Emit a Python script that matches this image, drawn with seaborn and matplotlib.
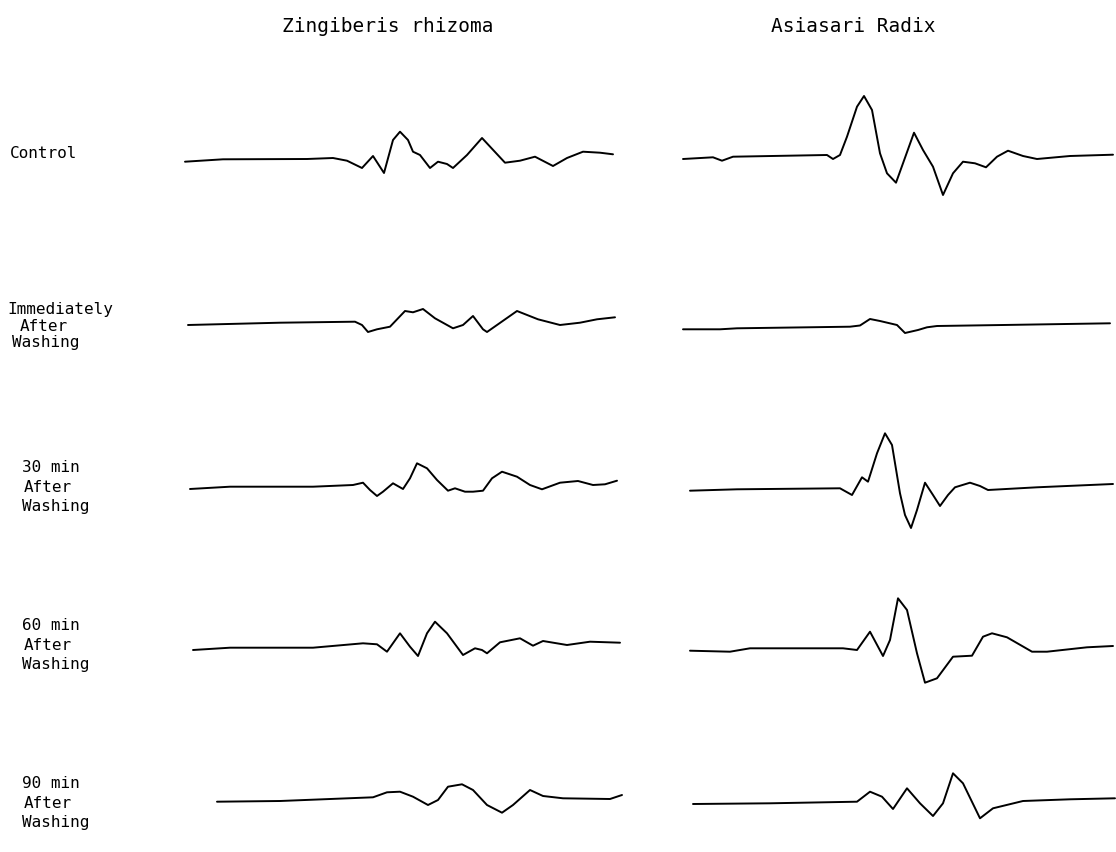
import numpy as np
import pandas as pd
import matplotlib
matplotlib.use("Agg")
import matplotlib.pyplot as plt
import seaborn as sns

sns.set_theme(style="white")
plt.rcParams['font.family'] = ['DejaVu Sans Mono', 'DejaVu Sans']

# ---- data: time (ms) and amplitude (mV, baseline = 0) ----
columns = ["Zingiberis rhizoma", "Asiasari Radix"]
conditions = ["Control", "Immediately After Washing", "30 min After Washing",
              "60 min After Washing", "90 min After Washing"]

z_control_t = [0.5, 4.3, 12.7, 15.3, 16.7, 18.2, 19.3, 20.4, 21.3, 22.0, 22.8, 23.3, 24.0, 25.0,
               25.8, 26.7, 27.3, 28.7, 30.2, 32.5, 34.0, 35.5, 37.3, 38.7, 40.3, 42.0, 43.3]
z_control_a = [-0.37, -0.13, -0.1, 0, -0.27, -1.0, 0.2, -1.5, 1.8, 2.63, 1.8, 0.63, 0.3, -1.0,
               -0.37, -0.6, -1.0, 0.3, 2.0, -0.47, -0.27, 0.13, -0.8, 0, 0.63, 0.53, 0.37]

a_control_t = [0.8, 3.8, 4.7, 5.8, 15.2, 15.8, 16.5, 17.2, 18.2, 18.9, 19.7, 20.5, 21.2, 22.1, 22.8,
               23.9, 24.8, 25.8, 26.8, 27.8, 28.8, 30.0, 31.1, 32.2, 33.3, 34.8, 36.2, 39.5, 43.8]
a_control_a = [-0.1, 0.07, -0.27, 0.13, 0.3, -0.1, 0.3, 2.13, 5.13, 6.2, 4.8, 0.47, -1.53, -2.47, -0.53,
               2.53, 0.8, -0.87, -3.7, -1.53, -0.37, -0.53, -0.93, 0.13, 0.73, 0.2, -0.1, 0.2, 0.33]

z_imm_t = [0.8, 10.0, 17.5, 18.2, 18.8, 19.7, 21.0, 22.5, 23.3, 24.3, 25.5, 27.3, 28.3, 29.3,
           30.3, 30.7, 31.7, 33.7, 35.8, 38.0, 40.0, 41.7, 43.5]
z_imm_a = [0, 0.23, 0.33, 0, -0.7, -0.43, -0.17, 1.4, 1.27, 1.6, 0.67, -0.33, 0, 0.9,
           -0.43, -0.7, 0, 1.4, 0.57, 0, 0.23, 0.57, 0.77]

a_imm_t = [0.8, 4.5, 6.2, 17.5, 18.5, 19.5, 20.5, 22.2, 23.0, 24.3, 25.2, 26.2, 32.8, 43.5]
a_imm_a = [-0.43, -0.43, -0.33, -0.17, -0.05, 0.6, 0.4, 0, -0.8, -0.5, -0.23, -0.1, 0, 0.17]

z_30_t = [1.0, 5.0, 13.3, 17.3, 18.3, 19.0, 19.7, 20.3, 21.3, 22.3, 23.0, 23.7, 24.7, 25.7, 26.8,
          27.5, 28.5, 29.3, 30.3, 31.2, 32.2, 33.7, 35.0, 36.2, 38.0, 39.8, 41.3, 42.5, 43.7]
z_30_a = [-0.1, 0.13, 0.13, 0.3, 0.53, -0.2, -0.8, -0.37, 0.47, -0.1, 0.97, 2.47, 1.97, 0.8, -0.27,
          -0.03, -0.37, -0.37, -0.27, 0.97, 1.63, 1.13, 0.3, -0.13, 0.53, 0.7, 0.3, 0.37, 0.73]

a_30_t = [1.5, 6.2, 16.5, 17.7, 18.7, 19.3, 20.2, 21.0, 21.7, 22.5, 23.0, 23.6, 24.2, 25.0, 25.8,
          26.5, 27.3, 28.0, 29.5, 30.5, 31.3, 36.2, 43.8]
a_30_a = [-0.27, -0.13, -0.03, -0.7, 1.07, 0.63, 3.47, 5.47, 4.3, -0.53, -2.7, -4.0, -2.2, 0.53, -0.7,
          -1.8, -0.7, 0.07, 0.53, 0.2, -0.2, 0.07, 0.4]

z_60_t = [1.3, 5.0, 13.3, 18.3, 19.7, 20.7, 22.0, 23.0, 23.8, 24.7, 25.5, 26.7, 28.3, 29.5, 30.2,
          30.7, 32.0, 34.0, 35.3, 36.3, 38.7, 41.0, 44.0]
z_60_a = [-0.2, 0.03, 0.03, 0.47, 0.37, -0.37, 1.47, 0.13, -0.8, 1.47, 2.63, 1.47, -0.7, -0.03, -0.2,
          -0.53, 0.57, 0.97, 0.23, 0.7, 0.3, 0.63, 0.53]

a_60_t = [1.5, 5.5, 7.5, 16.8, 18.2, 19.5, 20.8, 21.5, 22.3, 23.2, 24.2, 25.0, 26.2, 27.8, 29.7,
          30.8, 31.7, 33.2, 35.7, 37.2, 41.2, 43.8]
a_60_a = [-0.27, -0.37, -0.03, -0.03, -0.2, 1.63, -0.8, 0.8, 4.97, 3.8, -0.53, -3.47, -3.03, -0.87, -0.77,
          1.13, 1.47, 1.07, -0.37, -0.37, 0.07, 0.2]

z_90_t = [3.7, 10.0, 19.3, 20.7, 22.0, 23.3, 24.8, 25.8, 26.8, 28.2, 29.3, 30.7, 32.2, 33.3, 35.0,
          36.3, 38.3, 43.0, 44.2]
z_90_a = [0.03, 0.1, 0.47, 0.97, 1.03, 0.53, -0.3, 0.2, 1.53, 1.77, 1.2, -0.3, -1.07, -0.3, 1.2,
          0.6, 0.37, 0.3, 0.7]

a_90_t = [1.8, 9.5, 18.2, 19.5, 20.7, 21.8, 23.2, 24.5, 25.8, 26.8, 27.8, 28.8, 30.5, 31.8, 34.8,
          39.5, 44.0]
a_90_a = [-0.2, -0.13, 0.03, 1.03, 0.53, -0.7, 1.37, -0.13, -1.4, -0.13, 2.87, 1.87, -1.63, -0.63, 0.1,
          0.27, 0.37]

traces = [
    [(z_control_t, z_control_a), (a_control_t, a_control_a)],
    [(z_imm_t, z_imm_a), (a_imm_t, a_imm_a)],
    [(z_30_t, z_30_a), (a_30_t, a_30_a)],
    [(z_60_t, z_60_a), (a_60_t, a_60_a)],
    [(z_90_t, z_90_a), (a_90_t, a_90_a)],
]

# ---- layout ----
W, H = 1116, 852
fig = plt.figure(figsize=(W / 100, H / 100), dpi=100)
fig.patch.set_facecolor("white")

row_base = [158, 325, 488, 648, 802]          # pixel baselines of rows
col_px = [(180, 630, 45.0), (675, 1116, 44.1)]  # left px, right px, time span (ms)
half = 80  # px half-height of each panel; 0.1 mV per px

for r, base in enumerate(row_base):
    for c, (x0, x1, span) in enumerate(col_px):
        ax = fig.add_axes([x0 / W, 1 - (base + half) / H, (x1 - x0) / W, 2 * half / H])
        t, a = traces[r][c]
        df = pd.DataFrame({"t": t, "a": a})
        sns.lineplot(data=df, x="t", y="a", ax=ax, color="black", linewidth=1.4,
                     estimator=None, sort=False)
        ax.set_xlim(0, span)
        ax.set_ylim(-half / 10, half / 10)
        ax.axis("off")

def ftext(x, y, s, ha="left", fs=11.5):
    fig.text(x / W, 1 - y / H, s, ha=ha, va="center", fontsize=fs, color="black",
             family=['DejaVu Sans Mono', 'DejaVu Sans'])

ftext(388, 26, columns[0], ha="center", fs=14)
ftext(853, 26, columns[1], ha="center", fs=14)

ftext(10, 153, "Control")
ftext(7, 309, "Immediately")
ftext(20, 326, "After")
ftext(12, 343, "Washing")
for y0, lab in [(467, "30 min"), (625, "60 min"), (783, "90 min")]:
    ftext(22, y0, lab)
    ftext(24, y0 + 20, "After")
    ftext(22, y0 + 40, "Washing")

fig.savefig("out.png", dpi=100, facecolor="white")
